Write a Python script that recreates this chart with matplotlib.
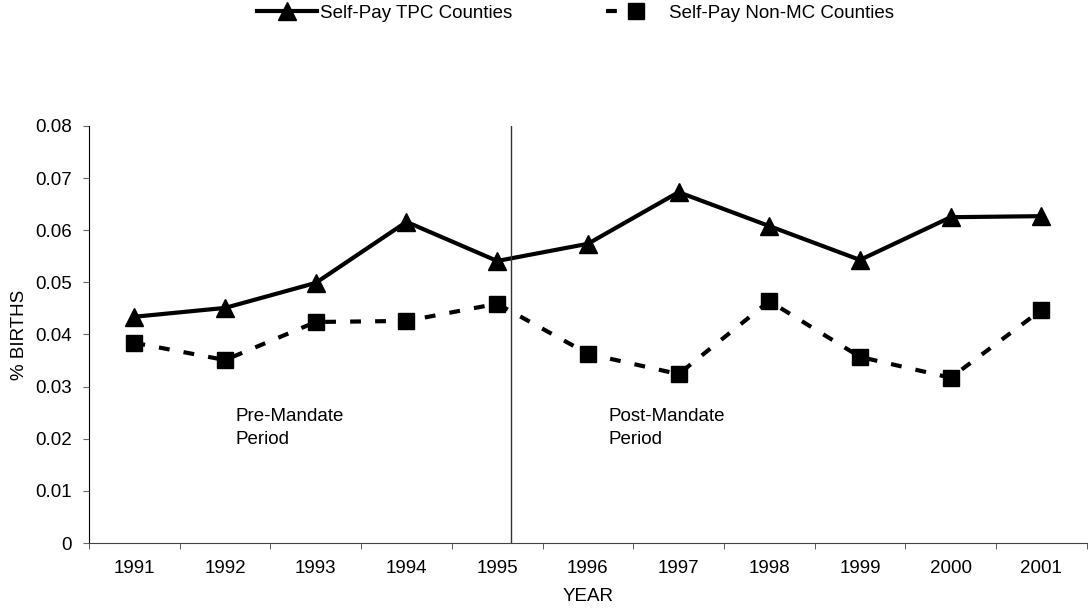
import matplotlib.pyplot as plt
from matplotlib.lines import Line2D

plt.rcParams['font.family'] = ['Liberation Sans', 'DejaVu Sans']

# data
years = ["1991", "1992", "1993", "1994", "1995", "1996",
         "1997", "1998", "1999", "2000", "2001"]
tpc = [0.0434, 0.0451, 0.0499, 0.0616, 0.0541, 0.0574,
       0.0673, 0.0608, 0.0543, 0.0625, 0.0627]
non_mc = [0.0384, 0.0351, 0.0424, 0.0426, 0.0459, 0.0363,
          0.0324, 0.0464, 0.0357, 0.0317, 0.0447]
mandate_pos = 4.15  # vertical divider, in category units

fs = 13.5
fig = plt.figure(figsize=(10.9, 6.16), dpi=100)
ax = fig.add_axes([0.0817, 0.1185, 0.9153, 0.677])

x = list(range(len(years)))
ax.plot(x, tpc, color="black", lw=3, marker="^", ms=12.5,
        label="Self-Pay TPC Counties")
ax.plot(x, non_mc, color="black", lw=3, ls=(0, (2.6, 3.4)), marker="s", ms=11.5,
        label="Self-Pay Non-MC Counties")

ax.plot([mandate_pos, mandate_pos], [0, 0.08], color="#333333", lw=1)

ax.text(1.11, 0.0221, "Pre-Mandate\nPeriod", fontsize=fs, va="center", ha="left",
        linespacing=1.45)
ax.text(5.23, 0.0221, "Post-Mandate\nPeriod", fontsize=fs, va="center", ha="left",
        linespacing=1.45)

ax.set_xlim(-0.5, 10.5)
ax.set_ylim(0, 0.08)
ax.set_yticks([i / 100 for i in range(9)])
ax.set_yticklabels(["0"] + ["0.0%d" % i for i in range(1, 9)])
ax.set_xticks(x)
ax.set_xticklabels(years)
ax.set_xticks([i - 0.5 for i in range(len(years) + 1)], minor=True)
ax.tick_params(axis="x", which="major", length=0, pad=12, labelsize=fs)
ax.tick_params(axis="x", which="minor", length=4.3, direction="out", color="#444444")
ax.tick_params(axis="y", length=4.3, pad=8, labelsize=fs, color="#666666")

for s in ["top", "right"]:
    ax.spines[s].set_visible(False)
ax.spines["left"].set_color("black")
ax.spines["bottom"].set_color("#444444")

ax.set_xlabel("YEAR", fontsize=fs, labelpad=8)
ax.set_ylabel("% BIRTHS", fontsize=fs, labelpad=5)

handles = [
    Line2D([], [], color="black", lw=3, marker="^", ms=12.5),
    Line2D([], [], color="black", lw=3, ls=(0, (2.6, 12)), marker="s", ms=11.5),
]
fig.legend(handles, ["Self-Pay TPC Counties", "Self-Pay Non-MC Counties"],
           loc="center left", bbox_to_anchor=(0.236, 1 - 13 / 616), ncol=2,
           frameon=False, fontsize=fs, handlelength=3.2, handletextpad=0.15,
           columnspacing=5.0, borderpad=0, borderaxespad=0)

fig.savefig("out.png", dpi=100)
